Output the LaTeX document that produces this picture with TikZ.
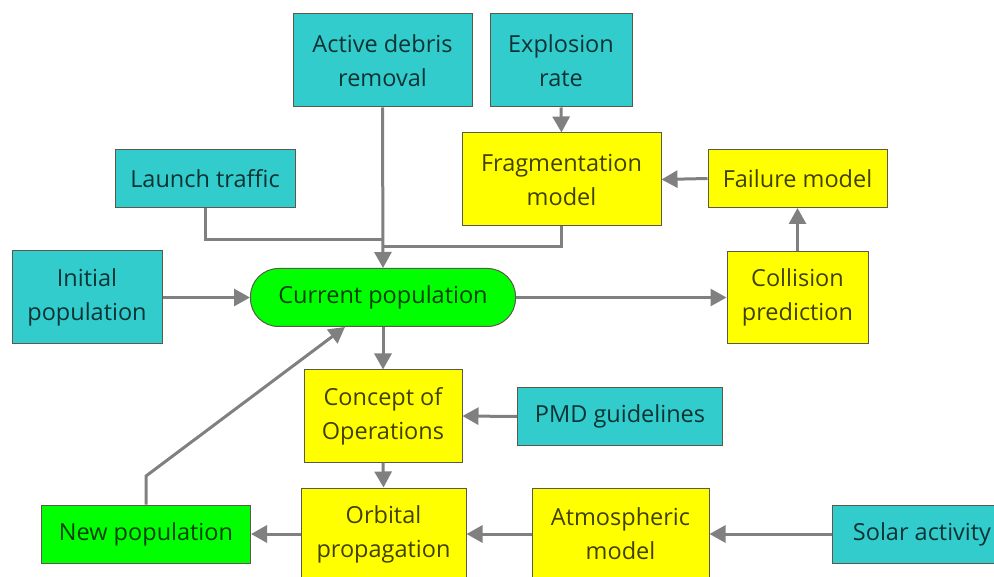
\documentclass[tikz,border=0pt]{standalone}
\usepackage{fontspec}
\setmainfont{Open Sans}
\usetikzlibrary{arrows.meta}
\definecolor{inputcyan}{HTML}{33CCCC}
\definecolor{modelyellow}{HTML}{FFFF00}
\definecolor{popgreen}{HTML}{00FF00}
\definecolor{boxedge}{HTML}{5A5A4A}
\definecolor{flowgray}{HTML}{808080}
\tikzset{
  box/.style={draw=boxedge, line width=1pt, align=center, inner sep=0pt,
    text opacity=.75, font=\fontsize{23.5}{34}\selectfont},
  inbox/.style={box, fill=inputcyan},
  modbox/.style={box, fill=modelyellow},
  popbox/.style={box, fill=popgreen},
  flow/.style={draw=flowgray, line width=3pt, -{Triangle[length=16pt,width=17pt]}},
  mergeline/.style={draw=flowgray, line width=3pt},
}
\begin{document}
\begin{tikzpicture}[x=1pt,y=-1pt]
  \useasboundingbox (0,0) rectangle (994,577);
  \clip (0,0) rectangle (994,577);
  % inputs
  \node[inbox, minimum width=179pt, minimum height=93pt] (adr) at (382.5,60.5) {Active debris\\removal};
  \node[inbox, minimum width=142pt, minimum height=93pt] (expl) at (561,60.5) {Explosion\\rate};
  \node[inbox, minimum width=180pt, minimum height=58pt] (launch) at (205,179) {Launch traffic};
  \node[inbox, minimum width=150pt, minimum height=93pt] (init) at (87,297.5) {Initial\\population};
  \node[inbox, minimum width=205pt, minimum height=58pt] (pmd) at (620,416.5) {PMD guidelines};
  \node[inbox, minimum width=180pt, minimum height=58pt] (solar) at (922,534) {Solar activity};
  % models
  \node[modbox, minimum width=199pt, minimum height=93pt] (frag) at (561.5,179.5) {Fragmentation\\model};
  \node[modbox, minimum width=179pt, minimum height=58pt] (fail) at (797.5,178.5) {Failure model};
  \node[modbox, minimum width=141pt, minimum height=92pt] (coll) at (797.5,297.5) {Collision\\prediction};
  \node[modbox, minimum width=158pt, minimum height=92pt] (conc) at (383,416) {Concept of\\Operations};
  \node[modbox, minimum width=165pt, minimum height=92pt] (orb) at (383.5,534) {Orbital\\propagation};
  \node[modbox, minimum width=177pt, minimum height=92pt] (atm) at (620.5,534) {Atmospheric\\model};
  % populations
  \node[popbox, minimum width=265pt, minimum height=58pt, rounded corners=28pt] (cur) at (383,297.5) {Current population};
  \node[popbox, minimum width=209pt, minimum height=58pt] (newp) at (146,534) {New population};
  % connectors
  \draw[mergeline] (launch.south) |- (383,240);
  \draw[mergeline] (frag.south) |- (383,247);
  \draw[flow] (adr.south) -- (cur.north);
  \draw[flow] (expl.south) -- (frag.north);
  \draw[flow] (fail.west) -- (frag.east);
  \draw[flow] (coll.north) -- (fail.south);
  \draw[flow] (cur.east) -- (coll.west);
  \draw[flow] (init.east) -- (cur.west);
  \draw[flow] (cur.south) -- (conc.north);
  \draw[flow] (pmd.west) -- (conc.east);
  \draw[flow] (conc.south) -- (orb.north);
  \draw[flow] (orb.west) -- (newp.east);
  \draw[flow] (atm.west) -- (orb.east);
  \draw[flow] (solar.west) -- (atm.east);
  \coordinate (back) at ([xshift=-38pt]cur.south);
  \draw[flow] (newp.north) -- (146,476) -- (back);
\end{tikzpicture}
\end{document}
